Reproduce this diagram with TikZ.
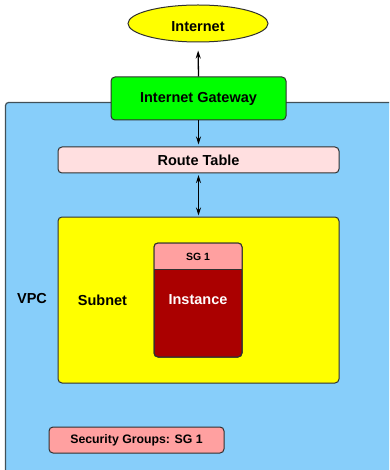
\documentclass[tikz,border=0pt]{standalone}
\usepackage{fontspec}
\setmainfont{Liberation Sans}
\usetikzlibrary{shapes.geometric,arrows.meta}
\definecolor{vpcblue}{HTML}{87CEFA}
\definecolor{gwgreen}{HTML}{00FF00}
\definecolor{netyellow}{HTML}{FFFF00}
\definecolor{rtpink}{HTML}{FFDFE0}
\definecolor{sgpink}{HTML}{FFA0A0}
\definecolor{instred}{HTML}{AA0000}
\definecolor{edgegray}{HTML}{303030}
\tikzset{
  lbl/.style={font=\fontsize{14.5}{17}\selectfont\bfseries},
  smalllbl/.style={font=\fontsize{10.5}{12}\selectfont\bfseries},
  box/.style={draw=edgegray, line width=1pt, rounded corners=4pt},
  link/.style={line width=1.3pt, -{Stealth[length=8pt,width=5pt]}},
  twolink/.style={line width=1.3pt, {Stealth[length=8pt,width=5pt]}-{Stealth[length=8pt,width=5pt]}}
}
\begin{document}
\begin{tikzpicture}[x=1pt,y=-1pt]
\useasboundingbox (0,0) rectangle (389,470);
\clip (0,0) rectangle (389,470);
\fill[white] (0,0) rectangle (389,470);

% VPC area, running off the right and bottom edges
\draw[fill=vpcblue, draw=edgegray!80!vpcblue, line width=1.2pt, rounded corners=3pt]
  (5.5,102.5) rectangle (420,500);
\node[lbl, anchor=center] (vpclbl) at (32,299) {VPC};

% Internet and gateway
\node[ellipse, draw=edgegray, line width=1pt, fill=netyellow, minimum width=140pt,
      minimum height=37pt, inner sep=0pt] (internet) at (198,23.5) {};
\node[lbl] (netlbl) at (198,27) {Internet};
\node[box, fill=gwgreen, minimum width=175pt, minimum height=43pt, inner sep=0pt, lbl]
  (gw) at (198.5,98.5) {Internet Gateway};

% Route table
\node[box, fill=rtpink, minimum width=281pt, minimum height=26pt, inner sep=0pt, lbl]
  (rt) at (198.5,160) {Route Table};

% Subnet with the instance inside
\node[box, fill=netyellow, minimum width=281pt, minimum height=166pt, inner sep=0pt]
  (subnet) at (198.5,300) {};
\node[lbl] (subnetlbl) at (102.5,300) {Subnet};

\node[box, fill=instred, minimum width=88pt, minimum height=114pt, inner sep=0pt]
  (inst) at (198,300) {};
\begin{scope}
  \clip[rounded corners=4pt] (154,243) rectangle (242,357);
  \fill[sgpink] (154,243) rectangle (242,269);
\end{scope}
\draw[edgegray, line width=1pt, rounded corners=4pt] (154,243) rectangle (242,357);
\draw[edgegray, line width=1pt] (154,269) -- (242,269);
\node[smalllbl] (sghead) at (198,256.5) {SG 1};
\node[lbl, text=white!95!pink] (instlbl) at (198,300) {Instance};

% Security group list
\node[box, fill=sgpink, minimum width=175pt, minimum height=26pt, inner sep=0pt,
      font=\fontsize{12.3}{14}\selectfont\bfseries] (sglist) at (136.5,440) {Security Groups: SG 1};

% Connectors
\draw[link, shorten >=8pt] (gw.north) -- (internet.south);
\draw[link, shorten >=2pt] (gw.south) -- (rt.north);
\draw[twolink, shorten <=1.5pt, shorten >=1pt] (rt.south) -- (subnet.north);
\end{tikzpicture}
\end{document}
